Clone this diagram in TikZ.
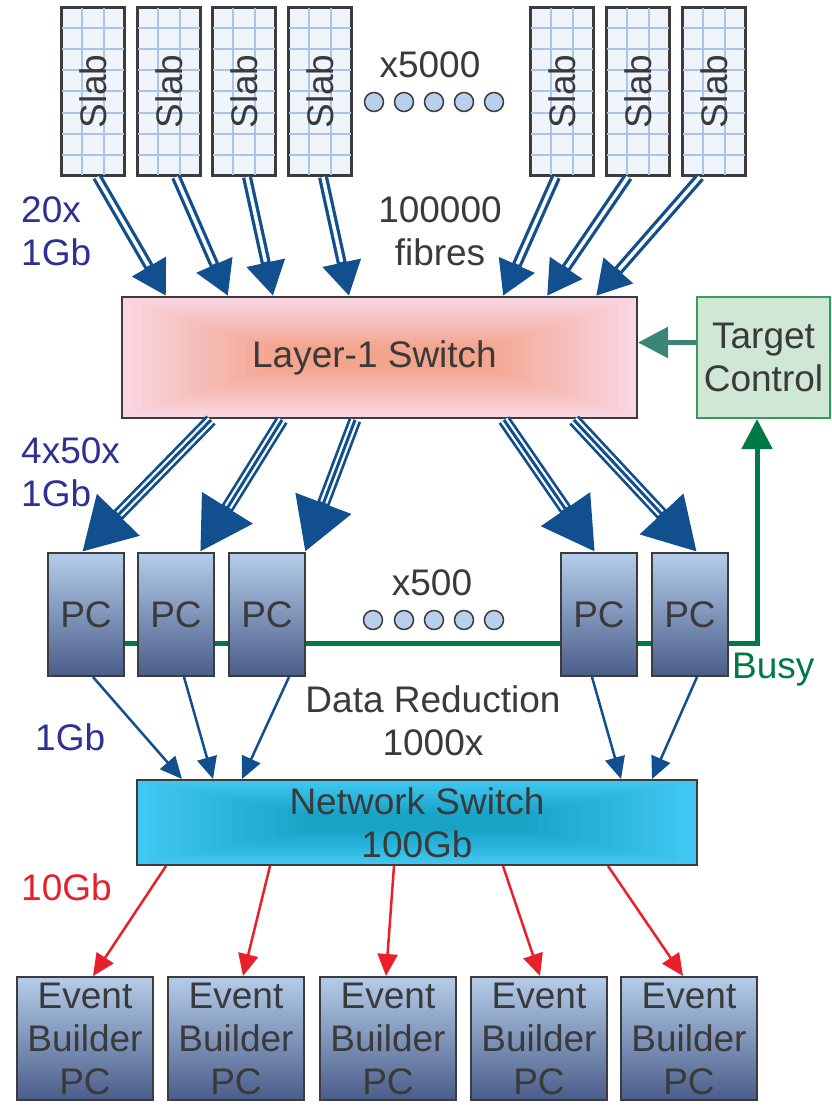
\documentclass[tikz,border=0pt]{standalone}
\usepackage{fontspec}
\setmainfont{Liberation Sans}
\usetikzlibrary{arrows.meta,calc}
\definecolor{txtc}{HTML}{3A3A3A}
\definecolor{bord}{HTML}{3C3C3C}
\definecolor{gridc}{HTML}{A9C5EA}
\definecolor{slabfill}{HTML}{F0F5FC}
\definecolor{ablue}{HTML}{114F8E}
\definecolor{lblue}{HTML}{2E3192}
\definecolor{ared}{HTML}{E8202A}
\definecolor{bgreen}{HTML}{007A45}
\definecolor{tealc}{HTML}{3A8575}
\definecolor{tcfill}{HTML}{CFE8D6}
\definecolor{tcbord}{HTML}{3A9A5C}
\definecolor{pctop}{HTML}{B5CCE9}
\definecolor{pcbot}{HTML}{4A5D8A}
\definecolor{dotfill}{HTML}{B8D0EC}
\definecolor{lonein}{HTML}{F3A48C}
\definecolor{loneout}{HTML}{F9D5E1}
\definecolor{nsin}{HTML}{17A2C6}
\definecolor{nsout}{HTML}{40C8F2}
\pgfdeclarelayer{bg}
\pgfsetlayers{bg,main}
\newcommand\dblarr[2]{%
  \draw[ablue,line width=10pt,-{Triangle[length=34pt,width=37pt]}] #1 -- #2;
  \draw[white,line width=3.5pt,shorten >=35pt] #1 -- #2;}
\newcommand\triarr[2]{%
  \draw[ablue,line width=13pt,-{Triangle[length=52pt,width=56pt]}] #1 -- #2;
  \draw[white,line width=7.5pt,shorten >=53pt] #1 -- #2;
  \draw[ablue,line width=3pt,shorten >=50pt] #1 -- #2;}
% rectangular gradient: node, outer half w, outer half h, inner half w, inner half h, inner colour, outer colour
\newcommand\rectgrad[7]{%
  \foreach \k in {0,...,16}{%
    \pgfmathsetmacro\gradT{\k/16}%
    \pgfmathsetmacro\gradP{100*\gradT}%
    \pgfmathsetmacro\gradW{#2-(#2-#4)*\gradT}%
    \pgfmathsetmacro\gradH{#3-(#3-#5)*\gradT}%
    \fill[#6!\gradP!#7] ($(#1.center)+(-\gradW,-\gradH)$) rectangle ($(#1.center)+(\gradW,\gradH)$);
  }}
\tikzset{
  txt/.style={text=txtc, font=\fontsize{37}{43}\selectfont, inner sep=0pt},
  box/.style={draw=bord, line width=2pt, inner sep=0pt},
  slabst/.style={box, fill=slabfill, minimum width=62pt, minimum height=167pt},
  gridline/.style={gridc, line width=2pt},
  pcst/.style={box, top color=pctop, bottom color=pcbot, minimum width=76pt, minimum height=123pt, txt},
  ebst/.style={box, top color=pctop, bottom color=pcbot, minimum width=136pt, minimum height=123pt, txt, align=center},
  dotst/.style={circle, draw=bord, line width=1.5pt, fill=dotfill, minimum size=19pt, inner sep=0pt},
  thinblue/.style={ablue, line width=2.5pt, -{Triangle[length=22pt,width=20pt]}},
  thinred/.style={ared, line width=2.5pt, -{Triangle[length=22pt,width=20pt]}},
}
\begin{document}
\begin{tikzpicture}[x=1pt,y=-1pt]
\useasboundingbox (0,0) rectangle (831,1105);
% slabs
\foreach \n/\x in {s1/93,s2/169,s3/244,s4/320,s5/562,s6/638,s7/714}{
  \node[slabst] (\n) at (\x,91.5) {};
  \foreach \i in {1,2}
    \draw[gridline] ($(\n.north west)!\i/3!(\n.north east)$) -- ($(\n.south west)!\i/3!(\n.south east)$);
  \foreach \j in {1,...,7}
    \draw[gridline] ($(\n.north west)!\j/8!(\n.south west)$) -- ($(\n.north east)!\j/8!(\n.south east)$);
  \draw[bord, line width=2pt] (\n.north west) rectangle (\n.south east);
  \node[txt, rotate=90] (\n t) at (\n) {Slab};
}
\node[txt] (x5000) at (430,65) {x5000};
\foreach \x [count=\i] in {374,404,434,464,494}
  \node[dotst] (da\i) at (\x,102) {};
% layer-1 switch
\node[box, minimum width=515pt, minimum height=121pt] (l1) at (379.5,357.5) {};
\begin{pgfonlayer}{bg}
\rectgrad{l1}{257}{60}{105}{10}{lonein}{loneout}
\end{pgfonlayer}
\node[txt] (l1t) at ($(l1.center)+(-5,0)$) {Layer-1 Switch};
\node[box, draw=tcbord, fill=tcfill, minimum width=133pt, minimum height=121pt, txt, align=center] (tc) at (763.5,357.5) {Target\\Control};
% labels
\node[txt, text=lblue, align=left, anchor=west] (lab20) at (21,231) {20x\\1Gb};
\node[txt, align=center] (fib) at (440,231) {100000\\fibres};
\node[txt, text=lblue, align=left, anchor=west] (lab450) at (21,472) {4x50x\\1Gb};
% slab arrows
\dblarr{($(s1.south)+(4,1)$)}{($(l1.north west)+(45,0)$)}
\dblarr{($(s2.south)+(7,1)$)}{($(l1.north west)+(107,0)$)}
\dblarr{($(s3.south)+(3,1)$)}{($(l1.north west)+(152,0)$)}
\dblarr{($(s4.south)+(3,1)$)}{($(l1.north west)+(228,0)$)}
\dblarr{($(s5.south)+(-6,1)$)}{($(l1.north west)+(382,0)$)}
\dblarr{($(s6.south)+(-10,1)$)}{($(l1.north west)+(426,0)$)}
\dblarr{($(s7.south)+(-14,1)$)}{($(l1.north west)+(475,0)$)}
% PCs
\coordinate (busyc) at (757,643);
\foreach \n/\x in {pc1/86,pc2/176,pc3/267,pc4/599,pc5/690}
  \node[pcst] (\n) at (\x,614.5) {PC};
\begin{pgfonlayer}{bg}
\draw[bgreen, line width=5pt, line join=miter, -{Triangle[length=30pt,width=30pt]}] (pc1.center |- busyc) -- (busyc) -- (busyc |- tc.south);
\end{pgfonlayer}
\node[txt, text=bgreen, anchor=west] (busy) at (732,670) {Busy};
\draw[tealc, line width=5.5pt, -{Triangle[length=30pt,width=30pt]}] ($(tc.west)+(0,-15)$) -- ($(l1.east)+(0,-15)$);
\node[txt] (x500) at (432,583) {x500};
\foreach \x [count=\i] in {373,404,434,464,494}
  \node[dotst] (db\i) at (\x,620) {};
% triple arrows
\triarr{($(l1.south west)+(90,1)$)}{($(pc1.north)+(-4,0)$)}
\triarr{($(l1.south west)+(161,1)$)}{($(pc2.north)+(24,0)$)}
\triarr{($(l1.south west)+(234,1)$)}{($(pc3.north)+(38,0)$)}
\triarr{($(l1.south west)+(383,1)$)}{($(pc4.north)+(-4,0)$)}
\triarr{($(l1.south west)+(453,1)$)}{($(pc5.north)+(7,0)$)}
% network switch
\node[box, minimum width=560pt, minimum height=85pt, txt, align=center] (ns) at (417,822.5) {Network Switch\\100Gb};
\begin{pgfonlayer}{bg}
\rectgrad{ns}{280}{42.5}{110}{8}{nsin}{nsout}
\end{pgfonlayer}
\node[txt, align=center] (dr) at (433,721) {Data Reduction\\1000x};
\node[txt, text=lblue, anchor=west] (lab1g) at (35,737) {1Gb};
\draw[thinblue] ($(pc1.south)+(7,0)$) -- ($(ns.north west)+(46,0)$);
\draw[thinblue] ($(pc2.south)+(8,0)$) -- ($(ns.north west)+(77,0)$);
\draw[thinblue] ($(pc3.south)+(22,0)$) -- ($(ns.north west)+(106,0)$);
\draw[thinblue] ($(pc4.south)+(-7,0)$) -- ($(ns.north west)+(485,0)$);
\draw[thinblue] ($(pc5.south)+(7,0)$) -- ($(ns.north west)+(516,0)$);
% event builders
\foreach \n/\x in {eb1/85,eb2/236,eb3/388,eb4/539,eb5/689}
  \node[ebst] (\n) at (\x,1038.5) {Event\\Builder\\PC};
\node[txt, text=ared, anchor=west] (lab10) at (21,887) {10Gb};
\draw[thinred] ($(ns.south west)+(30,0)$) -- ($(eb1.north)+(8,0)$);
\draw[thinred] ($(ns.south west)+(134,0)$) -- ($(eb2.north)+(7,0)$);
\draw[thinred] ($(ns.south west)+(258,0)$) -- ($(eb3.north)+(-2,0)$);
\draw[thinred] ($(ns.south west)+(367,0)$) -- ($(eb4.north)+(1,0)$);
\draw[thinred] ($(ns.south west)+(472,0)$) -- ($(eb5.north)+(-6,0)$);
\end{tikzpicture}
\end{document}
